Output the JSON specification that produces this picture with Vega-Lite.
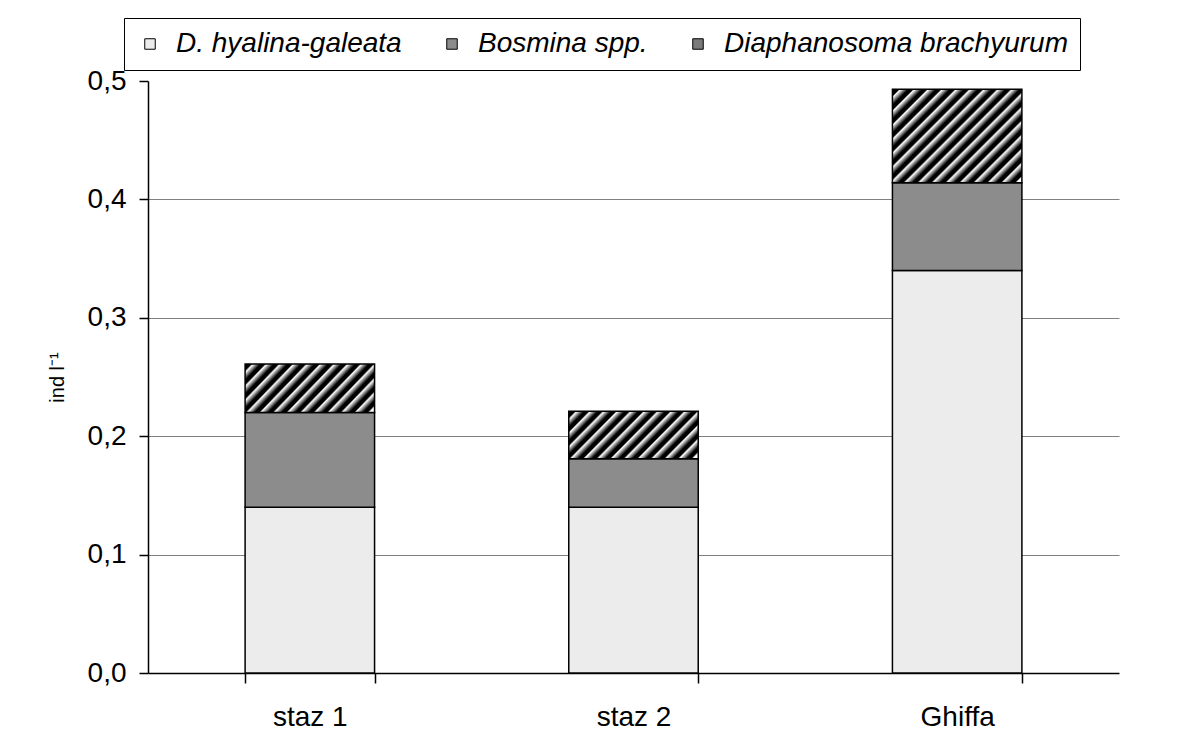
{
  "$schema": "https://vega.github.io/schema/vega-lite/v6.json",
  "autosize": {"type": "none"},
  "width": 971,
  "height": 592,
  "padding": {"left": 148, "top": 81, "right": 60, "bottom": 66},
  "background": "white",
  "config": {
    "view": {"stroke": null},
    "font": "Liberation Sans"
  },
  "data": {
    "values": [
      {"site": "staz 1", "species": "D. hyalina-galeata", "value": 0.14},
      {"site": "staz 1", "species": "Bosmina spp.", "value": 0.08},
      {"site": "staz 1", "species": "Diaphanosoma brachyurum", "value": 0.041},
      {"site": "staz 2", "species": "D. hyalina-galeata", "value": 0.14},
      {"site": "staz 2", "species": "Bosmina spp.", "value": 0.041},
      {"site": "staz 2", "species": "Diaphanosoma brachyurum", "value": 0.04},
      {"site": "Ghiffa", "species": "D. hyalina-galeata", "value": 0.34},
      {"site": "Ghiffa", "species": "Bosmina spp.", "value": 0.074},
      {"site": "Ghiffa", "species": "Diaphanosoma brachyurum", "value": 0.079}
    ]
  },
  "transform": [
    {"calculate": "indexof(['D. hyalina-galeata','Bosmina spp.','Diaphanosoma brachyurum'], datum.species)", "as": "stackOrder"}
  ],
  "mark": {"type": "bar", "stroke": "black", "strokeWidth": 1.5},
  "encoding": {
    "x": {
      "field": "site", "type": "nominal", "sort": ["staz 1", "staz 2", "Ghiffa"],
      "scale": {"paddingInner": 0.6, "paddingOuter": 0.3},
      "axis": {
        "title": null, "labelAngle": 0, "tickBand": "extent",
        "domainColor": "black", "domainWidth": 1.5, "tickColor": "black", "tickWidth": 1.5, "tickSize": 10,
        "labelFont": "Liberation Sans", "labelFontSize": 28, "labelColor": "black", "labelPadding": 20
      }
    },
    "y": {
      "field": "value", "type": "quantitative", "stack": "zero",
      "scale": {"domain": [0, 0.5], "nice": false},
      "axis": {
        "title": "ind l⁻¹", "titleFont": "Liberation Sans", "titleFontSize": 20, "titleFontWeight": "normal", "titleColor": "black", "titlePadding": 20,
        "values": [0, 0.1, 0.2, 0.3, 0.4, 0.5],
        "labelExpr": "replace(format(datum.value, '.1f'), '.', ',')",
        "labelFont": "Liberation Sans", "labelFontSize": 28, "labelColor": "black", "labelPadding": 13,
        "tickSize": 9, "tickColor": "black", "tickWidth": 1.5,
        "domainColor": "black", "domainWidth": 1.5,
        "grid": true, "gridColor": "#808080", "gridWidth": 1,
        "gridOpacity": {"condition": {"test": "datum.value >= 0.5 || datum.value <= 0", "value": 0}, "value": 1}
      }
    },
    "order": {"field": "stackOrder", "type": "quantitative"},
    "fill": {
      "field": "species", "type": "nominal",
      "scale": {"domain": ["D. hyalina-galeata", "Bosmina spp.", "Diaphanosoma brachyurum"], "range": ["#ececec", "#8c8c8c", "#7a7a7a"]},
      "legend": {
        "title": null, "orient": "none", "legendX": -24, "legendY": -63, "direction": "horizontal", "columns": 3,
        "strokeColor": "black", "fillColor": "white", "padding": 12,
        "symbolType": "square", "symbolSize": 110, "symbolStrokeColor": "black", "symbolStrokeWidth": 1,
        "labelFont": "Liberation Sans", "labelFontSize": 28, "labelFontStyle": "italic", "labelColor": "black",
        "labelLimit": 500, "columnPadding": 36, "labelOffset": 12
      },
      "condition": [
        {"test": "datum.species === 'Diaphanosoma brachyurum' && datum.site === 'Ghiffa'",
         "value": {"gradient": "linear", "x1": 0, "y1": 0, "x2": 1.1315, "y2": 0.818, "stops": [
          {"offset": 0, "color": "white"},
          {"offset": 0.0094, "color": "black"}, {"offset": 0.0281, "color": "black"}, {"offset": 0.0375, "color": "white"},
          {"offset": 0.0719, "color": "black"}, {"offset": 0.0906, "color": "black"}, {"offset": 0.1, "color": "white"},
          {"offset": 0.1344, "color": "black"}, {"offset": 0.1531, "color": "black"}, {"offset": 0.1625, "color": "white"},
          {"offset": 0.1969, "color": "black"}, {"offset": 0.2156, "color": "black"}, {"offset": 0.225, "color": "white"},
          {"offset": 0.2594, "color": "black"}, {"offset": 0.2781, "color": "black"}, {"offset": 0.2875, "color": "white"},
          {"offset": 0.3219, "color": "black"}, {"offset": 0.3406, "color": "black"}, {"offset": 0.35, "color": "white"},
          {"offset": 0.3844, "color": "black"}, {"offset": 0.4031, "color": "black"}, {"offset": 0.4125, "color": "white"},
          {"offset": 0.4469, "color": "black"}, {"offset": 0.4656, "color": "black"}, {"offset": 0.475, "color": "white"},
          {"offset": 0.5094, "color": "black"}, {"offset": 0.5281, "color": "black"}, {"offset": 0.5375, "color": "white"},
          {"offset": 0.5719, "color": "black"}, {"offset": 0.5906, "color": "black"}, {"offset": 0.6, "color": "white"},
          {"offset": 0.6344, "color": "black"}, {"offset": 0.6531, "color": "black"}, {"offset": 0.6625, "color": "white"},
          {"offset": 0.6969, "color": "black"}, {"offset": 0.7156, "color": "black"}, {"offset": 0.725, "color": "white"},
          {"offset": 0.7594, "color": "black"}, {"offset": 0.7781, "color": "black"}, {"offset": 0.7875, "color": "white"},
          {"offset": 0.8219, "color": "black"}, {"offset": 0.8406, "color": "black"}, {"offset": 0.85, "color": "white"},
          {"offset": 0.8844, "color": "black"}, {"offset": 0.9031, "color": "black"}, {"offset": 0.9125, "color": "white"},
          {"offset": 0.9469, "color": "black"}, {"offset": 0.9656, "color": "black"}, {"offset": 0.975, "color": "white"},
          {"offset": 1, "color": "white"}
         ]}},
        {"test": "datum.species === 'Diaphanosoma brachyurum'",
         "value": {"gradient": "linear", "x1": 0, "y1": 0, "x2": 1.204, "y2": 0.435, "stops": [
          {"offset": 0, "color": "white"},
          {"offset": 0.0115, "color": "black"}, {"offset": 0.0346, "color": "black"}, {"offset": 0.0462, "color": "white"},
          {"offset": 0.0885, "color": "black"}, {"offset": 0.1115, "color": "black"}, {"offset": 0.1231, "color": "white"},
          {"offset": 0.1654, "color": "black"}, {"offset": 0.1885, "color": "black"}, {"offset": 0.2, "color": "white"},
          {"offset": 0.2423, "color": "black"}, {"offset": 0.2654, "color": "black"}, {"offset": 0.2769, "color": "white"},
          {"offset": 0.3192, "color": "black"}, {"offset": 0.3423, "color": "black"}, {"offset": 0.3538, "color": "white"},
          {"offset": 0.3962, "color": "black"}, {"offset": 0.4192, "color": "black"}, {"offset": 0.4308, "color": "white"},
          {"offset": 0.4731, "color": "black"}, {"offset": 0.4962, "color": "black"}, {"offset": 0.5077, "color": "white"},
          {"offset": 0.55, "color": "black"}, {"offset": 0.5731, "color": "black"}, {"offset": 0.5846, "color": "white"},
          {"offset": 0.6269, "color": "black"}, {"offset": 0.65, "color": "black"}, {"offset": 0.6615, "color": "white"},
          {"offset": 0.7038, "color": "black"}, {"offset": 0.7269, "color": "black"}, {"offset": 0.7385, "color": "white"},
          {"offset": 0.7808, "color": "black"}, {"offset": 0.8038, "color": "black"}, {"offset": 0.8154, "color": "white"},
          {"offset": 0.8577, "color": "black"}, {"offset": 0.8808, "color": "black"}, {"offset": 0.8923, "color": "white"},
          {"offset": 0.9346, "color": "black"}, {"offset": 0.9577, "color": "black"}, {"offset": 0.9692, "color": "white"},
          {"offset": 1, "color": "white"}
         ]}}
      ]
    }
  }
}
